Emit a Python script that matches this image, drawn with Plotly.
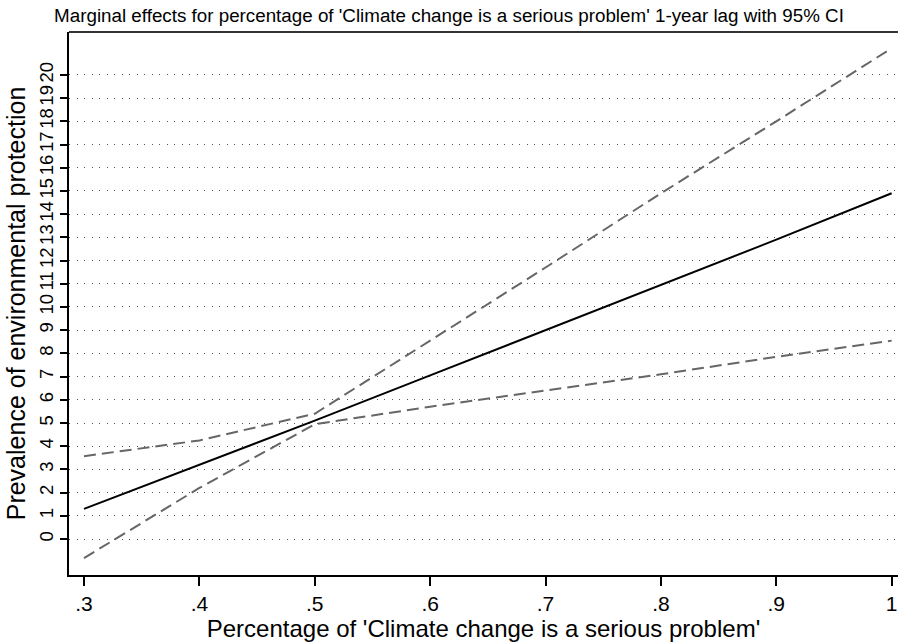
import plotly.graph_objects as go

x_vals = [0.3, 0.4, 0.5, 0.6, 0.7, 0.8, 0.9, 1.0]
effect = [1.3, 3.2, 5.1, 7.05, 9.0, 10.95, 12.9, 14.9]
upper_ci = [3.57, 4.25, 5.4, 8.55, 11.7, 14.9, 18.0, 21.15]
lower_ci = [-0.82, 2.2, 4.95, 5.7, 6.4, 7.1, 7.85, 8.55]

x_ticks = [0.3, 0.4, 0.5, 0.6, 0.7, 0.8, 0.9, 1.0]
x_tick_labels = [".3", ".4", ".5", ".6", ".7", ".8", ".9", "1"]
y_ticks = list(range(0, 21))

title = "Marginal effects for percentage of 'Climate change is a serious problem' 1-year lag with 95% CI"
x_title = "Percentage of 'Climate change is a serious problem'"
y_title = "Prevalence of environmental protection"

fig = go.Figure()
fig.add_trace(go.Scatter(x=x_vals, y=upper_ci, mode="lines",
                         line=dict(color="#666666", width=2, dash="12px,6px"),
                         showlegend=False, hoverinfo="skip"))
fig.add_trace(go.Scatter(x=x_vals, y=lower_ci, mode="lines",
                         line=dict(color="#666666", width=2, dash="12px,6px"),
                         showlegend=False, hoverinfo="skip"))
fig.add_trace(go.Scatter(x=x_vals, y=effect, mode="lines",
                         line=dict(color="black", width=2),
                         showlegend=False, hoverinfo="skip"))

font_family = "Liberation Sans, Arial, sans-serif"

fig.update_layout(
    width=898, height=644,
    margin=dict(l=69, r=0, t=32, b=69),
    paper_bgcolor="white", plot_bgcolor="white",
    font=dict(family=font_family, color="black"),
    title=dict(text=title, x=0.5, xanchor="center", y=1 - 15/644, yanchor="middle",
               font=dict(size=18.8, family=font_family, color="black")),
    xaxis=dict(
        range=[0.287, 1.0055],
        tickvals=x_ticks, ticktext=x_tick_labels,
        ticks="outside", ticklen=9, tickwidth=1.5, tickcolor="black",
        showline=True, linecolor="black", linewidth=2,
        showgrid=False, zeroline=False,
        tickfont=dict(size=21, family=font_family),
        title=dict(text=x_title, font=dict(size=24, family=font_family), standoff=0),
    ),
    yaxis=dict(
        range=[-1.55, 21.85],
        tickvals=y_ticks, ticktext=[str(v) for v in y_ticks],
        tickangle=-90,
        ticks="outside", ticklen=7, tickwidth=1.5, tickcolor="black",
        showline=True, linecolor="black", linewidth=2,
        showgrid=True, gridcolor="#555555", gridwidth=1, griddash="1px,6.5px",
        zeroline=False,
        tickfont=dict(size=18.5, family=font_family),
        title=dict(text=y_title, font=dict(size=25, family=font_family), standoff=3),
    ),
    shapes=[dict(type="line", xref="paper", yref="paper", x0=0, x1=1, y0=1, y1=1,
                 line=dict(color="#333333", width=2))],
)

fig.write_html("out.html")
